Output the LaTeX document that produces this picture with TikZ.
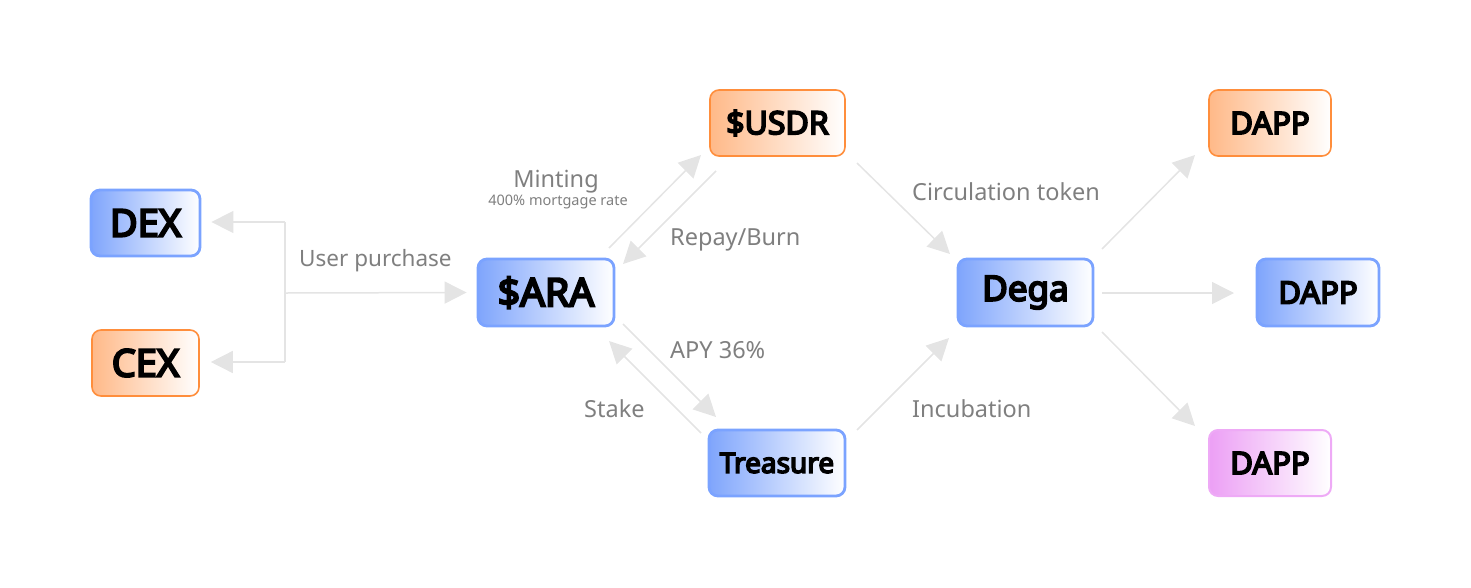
\documentclass[tikz,border=0pt]{standalone}
\usepackage{fontspec}
\setmainfont{Noto Sans}[AutoFakeBold=5.5]
\usetikzlibrary{arrows.meta,calc}
\definecolor{bluefill}{HTML}{7FA5FC}
\definecolor{blueline}{HTML}{7BA3FF}
\definecolor{orangefill}{HTML}{FFB988}
\definecolor{orangeline}{HTML}{FF8E3C}
\definecolor{pinkfill}{HTML}{EC9FF5}
\definecolor{pinkline}{HTML}{EEAAF6}
\definecolor{conn}{HTML}{E4E4E4}
\definecolor{lbl}{HTML}{7F7F7F}
\tikzset{
  x=1pt,y=-1pt,
  box/.style={rounded corners=9pt, inner sep=0pt, font=\bfseries, text=black},
  bluebox/.style={box, draw=blueline, line width=2.8pt, left color=bluefill, right color=white},
  orangebox/.style={box, draw=orangeline, line width=1.6pt, left color=orangefill, right color=white},
  pinkbox/.style={box, draw=pinkline, line width=2pt, left color=pinkfill, right color=white},
  conn/.style={draw=conn, line width=1.5pt},
  arr/.style={conn, -{Triangle[length=22pt,width=22pt,fill=conn]}},
  lab/.style={text=lbl, font=\fontsize{23.5}{26}\selectfont, inner sep=0pt},
}
\newcommand{\mkbox}[7]{% style, name, x1, y1, x2, y2, text
  \node[#1, minimum width={#5-#3}, minimum height={#6-#4}] (#2) at ({(#3+#5)/2},{(#4+#6)/2}) {#7};}
\begin{document}
\begin{tikzpicture}
\useasboundingbox (0,0) rectangle (1471,587);
% boxes
\mkbox{bluebox}{dex}{91}{190}{200}{256}{\fontsize{38}{40}\selectfont DEX}
\mkbox{orangebox}{cex}{92}{330}{199}{396}{\fontsize{38}{40}\selectfont CEX}
\mkbox{bluebox}{ara}{478}{259}{614}{326}{\fontsize{39}{40}\selectfont \$ARA}
\mkbox{orangebox}{usdr}{710}{90}{845}{156}{\fontsize{32}{34}\selectfont \$USDR}
\mkbox{bluebox}{treasure}{709}{430}{845}{496}{\fontsize{28}{30}\selectfont Treasure}
\mkbox{bluebox}{dega}{958}{259}{1093}{326}{\fontsize{35}{37}\selectfont\raisebox{-2pt}{Dega}}
\mkbox{orangebox}{dappa}{1209}{90}{1331}{156}{\fontsize{31}{33}\selectfont DAPP}
\mkbox{bluebox}{dappb}{1257}{259}{1379}{326}{\fontsize{31}{33}\selectfont DAPP}
\mkbox{pinkbox}{dappc}{1209}{430}{1331}{496}{\fontsize{31}{33}\selectfont DAPP}

% connector end points
\coordinate (dexT) at ($(dex.east)+(10,-1)$);
\coordinate (cexT) at ($(cex.east)+(11,-1)$);
\coordinate (jt) at (285,222);
\coordinate (jb) at (285,362);
\coordinate (jm) at (285,293);
\coordinate (araL) at ($(ara.west)+(-10,0)$);
\coordinate (m1) at (609,248);
\coordinate (m2) at (701,155);
\coordinate (r1) at (716,171);
\coordinate (r2) at (623,264);
\coordinate (a1) at (623,324);
\coordinate (a2) at (716,417);
\coordinate (s1) at (701,433);
\coordinate (s2) at (609,341);
\coordinate (c1) at (857,163);
\coordinate (c2) at (950,254);
\coordinate (i1) at (857,430);
\coordinate (i2) at (949,338);
\coordinate (d1) at (1102,249);
\coordinate (d2) at (1195,155);
\coordinate (e1) at (1102,293);
\coordinate (e2) at (1234,293);
\coordinate (f1) at (1102,332);
\coordinate (f2) at (1195,426);

% connectors
\draw[arr] (jt) -- (dexT);
\draw[arr] (jb) -- (cexT);
\draw[conn] (jt) -- (jb);
\draw[arr] (jm) -- (araL);
\draw[arr] (m1) -- (m2);
\draw[arr] (r1) -- (r2);
\draw[arr] (a1) -- (a2);
\draw[arr] (s1) -- (s2);
\draw[arr] (c1) -- (c2);
\draw[arr] (i1) -- (i2);
\draw[arr] (d1) -- (d2);
\draw[arr] (e1) -- (e2);
\draw[arr] (f1) -- (f2);

% labels
\node[lab, anchor=west, font=\fontsize{22.5}{25}\selectfont] (lup) at (299,261) {User purchase};
\node[lab, font=\fontsize{23.5}{25}\selectfont] (lmint) at (556,182) {Minting};
\node[text=lbl, font=\fontsize{14.5}{16}\selectfont, inner sep=0pt] (lmort) at (558,202) {400\% mortgage rate};
\node[lab, anchor=west] (lrep) at (670,240) {Repay/Burn};
\node[lab, anchor=west] (lapy) at (670,350) {APY 36\%};
\node[lab, anchor=west] (lstk) at (584,409) {Stake};
\node[lab, anchor=west] (lcirc) at (912,192) {Circulation token};
\node[lab, anchor=west] (linc) at (912,409) {Incubation};
\end{tikzpicture}
\end{document}
